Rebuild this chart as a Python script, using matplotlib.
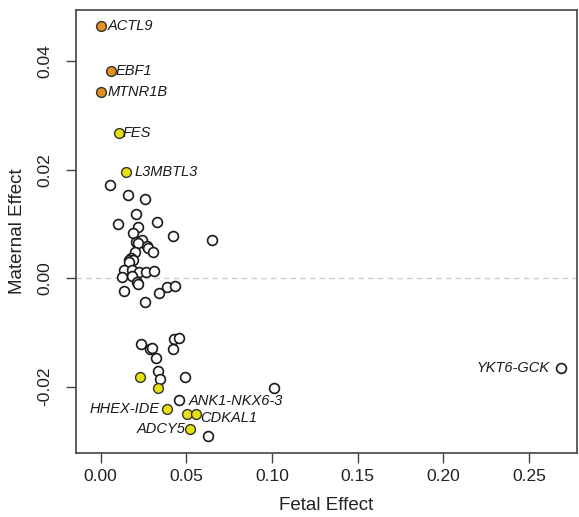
import matplotlib
matplotlib.use("Agg")
import matplotlib.pyplot as plt

plt.rcParams['font.family'] = ['Liberation Sans', 'DejaVu Sans']

# Unlabelled open circles
open_x = [0.0055, 0.0159, 0.0261, 0.0207, 0.0102, 0.0331, 0.0217, 0.0191, 0.0421, 0.0652,
          0.0240, 0.0207, 0.0221, 0.0270, 0.0279, 0.0305, 0.0201, 0.0178, 0.0168, 0.0191,
          0.0166, 0.0139, 0.0186, 0.0225, 0.0264, 0.0314, 0.0127, 0.0184, 0.0215, 0.0219,
          0.0139, 0.0343, 0.0390, 0.0436, 0.0261, 0.0236, 0.0289, 0.0299, 0.0431, 0.0458,
          0.0421, 0.0322, 0.0337, 0.0347, 0.0495, 0.1014, 0.0456, 0.0629]
open_y = [0.0172, 0.0154, 0.0146, 0.0119, 0.0100, 0.0104, 0.0095, 0.0084, 0.0078, 0.0071,
          0.0071, 0.0066, 0.0065, 0.0060, 0.0055, 0.0048, 0.0049, 0.0037, 0.0034, 0.0034,
          0.0029, 0.0015, 0.0015, 0.0011, 0.0012, 0.0013, 0.0003, 0.0004, -0.0007, -0.0011,
          -0.0023, -0.0028, -0.0017, -0.0015, -0.0044, -0.0121, -0.0131, -0.0128, -0.0112, -0.0110,
          -0.0131, -0.0148, -0.0171, -0.0186, -0.0183, -0.0202, -0.0225, -0.0291]

# Labelled open circle
ykt_x = [0.2687]
ykt_y = [-0.0166]
ykt_label = ["YKT6-GCK"]

# Orange (labelled)
orange_labels = ["ACTL9", "EBF1", "MTNR1B"]
orange_x = [0.0, 0.0064, 0.0]
orange_y = [0.0466, 0.0383, 0.0344]

# Yellow points
yellow_labels = ["FES", "L3MBTL3", "", "", "HHEX-IDE", "ANK1-NKX6-3", "CDKAL1", "ADCY5"]
yellow_x = [0.0110, 0.0147, 0.0230, 0.0337, 0.0386, 0.0506, 0.0557, 0.0522]
yellow_y = [0.0268, 0.0196, -0.0183, -0.0203, -0.0241, -0.0250, -0.0250, -0.0278]

xticks = [0.00, 0.05, 0.10, 0.15, 0.20, 0.25]
yticks = [-0.02, 0.00, 0.02, 0.04]

fig = plt.figure(figsize=(5.79, 5.17), dpi=100)
ax = fig.add_axes([0.1313, 0.1244, 0.8652, 0.8563])

ax.axhline(0, color='#cccccc', linestyle=(0, (4, 3)), linewidth=1.0, zorder=1)

ms = 50
ax.scatter(open_x, open_y, s=ms, facecolors='white', edgecolors='#1a1a1a', linewidths=1.2, zorder=3)
ax.scatter(ykt_x, ykt_y, s=ms, facecolors='white', edgecolors='#1a1a1a', linewidths=1.2, zorder=3)
ax.scatter(orange_x, orange_y, s=ms, facecolors='#E8901C', edgecolors='#333333', linewidths=1.0, zorder=4)
ax.scatter(yellow_x, yellow_y, s=ms, facecolors='#E6E010', edgecolors='#333333', linewidths=1.0, zorder=4)

lab_kw = dict(fontsize=10.5, fontstyle='italic', color='#1a1a1a', va='center', zorder=5)
# label offsets in points
offsets = {
    "ACTL9": (5, 0, 'left'),
    "EBF1": (3, 0, 'left'),
    "MTNR1B": (5, 0, 'left'),
    "FES": (2, 0, 'left'),
    "L3MBTL3": (6, 0, 'left'),
    "HHEX-IDE": (-5, 0, 'right'),
    "ANK1-NKX6-3": (1, 9, 'left'),
    "CDKAL1": (3, -3, 'left'),
    "ADCY5": (-3, 0, 'right'),
    "YKT6-GCK": (-8, 0, 'right'),
}
for lbl, x, y in zip(orange_labels + yellow_labels + ykt_label,
                     orange_x + yellow_x + ykt_x, orange_y + yellow_y + ykt_y):
    if not lbl:
        continue
    dx, dy, ha = offsets[lbl]
    ax.annotate(lbl, (x, y), xytext=(dx, dy), textcoords='offset points', ha=ha, **lab_kw)

ax.set_xlim(-0.0143, 0.278)
ax.set_ylim(-0.0322, 0.0495)
ax.set_xticks(xticks)
ax.set_xticklabels([f"{t:.2f}" for t in xticks])
ax.set_yticks(yticks)
ax.set_yticklabels([f"{t:.2f}" for t in yticks], rotation=90, va='center')

for s in ax.spines.values():
    s.set_color('#444444')
    s.set_linewidth(1.2)
ax.tick_params(axis='both', direction='out', length=7, width=1.0, color='#444444',
               labelsize=12.5, labelcolor='#222222')
ax.tick_params(axis='x', pad=5)
ax.tick_params(axis='y', pad=10)

ax.set_xlabel("Fetal Effect", fontsize=13.5, color='#222222', labelpad=9)
ax.set_ylabel("Maternal Effect", fontsize=13.5, color='#222222', labelpad=8)

fig.savefig("out.png", dpi=100)
